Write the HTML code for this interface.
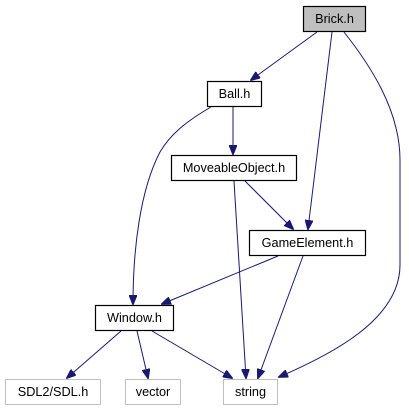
<!DOCTYPE html>
<html><head><meta charset="utf-8"><style>
html,body{margin:0;padding:0;background:#fff;width:409px;height:411px;overflow:hidden}
text{font-family:"Liberation Sans",Arial,sans-serif;font-size:12.7px;fill:#000}
</style></head><body>
<svg width="409" height="411" viewBox="0 0 409 411" xmlns="http://www.w3.org/2000/svg">
<defs><marker id="a" markerWidth="10" markerHeight="8" refX="9" refY="4" orient="auto" markerUnits="userSpaceOnUse"><path d="M0,0 L10,4 L0,8 Z" fill="#191970" stroke="#191970"/></marker></defs>
<g fill="none" stroke="#191970" stroke-width="1" marker-end="url(#a)">
<path d="M317,32 L251,80"/>
<path d="M332,32 L308,229"/>
<path d="M344,32 C370,65 400,110 400,160 L400,265 C400,320 330,355 279,377"/>
<path d="M233,106 L233,154"/>
<path d="M211,107 C185,122 170,135 160,152 C140,190 133,250 133,304"/>
<path d="M234,181 L246,378"/>
<path d="M245,181 L293,229"/>
<path d="M278,256 L162,304"/>
<path d="M303,256 L258,378"/>
<path d="M121,331 L67,378"/>
<path d="M137,331 L148,378"/>
<path d="M152,331 L232,378"/>
</g>
<g stroke-width="1.2">
<rect x="303.5" y="6.5" width="62" height="25" fill="#bfbfbf" stroke="#000"/>
<rect x="207.5" y="81.5" width="54" height="25" fill="#fff" stroke="#000"/>
<rect x="171.5" y="155.5" width="125" height="25" fill="#fff" stroke="#000"/>
<rect x="249.5" y="230.5" width="116" height="25" fill="#fff" stroke="#000"/>
<rect x="95.5" y="305.5" width="78" height="25" fill="#fff" stroke="#000"/>
</g>
<text x="334.5" y="23" text-anchor="middle">Brick.h</text>
<text x="234.5" y="98" text-anchor="middle">Ball.h</text>
<text x="234" y="172" text-anchor="middle">MoveableObject.h</text>
<text x="307.5" y="247" text-anchor="middle">GameElement.h</text>
<text x="134.5" y="322" text-anchor="middle">Window.h</text>
<rect x="5.5" y="379.5" width="95" height="25" fill="#fff" stroke="#bfbfbf"/>
<text x="53" y="396" text-anchor="middle">SDL2/SDL.h</text>
<rect x="125.5" y="379.5" width="55" height="25" fill="#fff" stroke="#bfbfbf"/>
<text x="153" y="396" text-anchor="middle">vector</text>
<rect x="223.5" y="379.5" width="54" height="25" fill="#fff" stroke="#bfbfbf"/>
<text x="250.5" y="396" text-anchor="middle">string</text>
</svg>
</body></html>
